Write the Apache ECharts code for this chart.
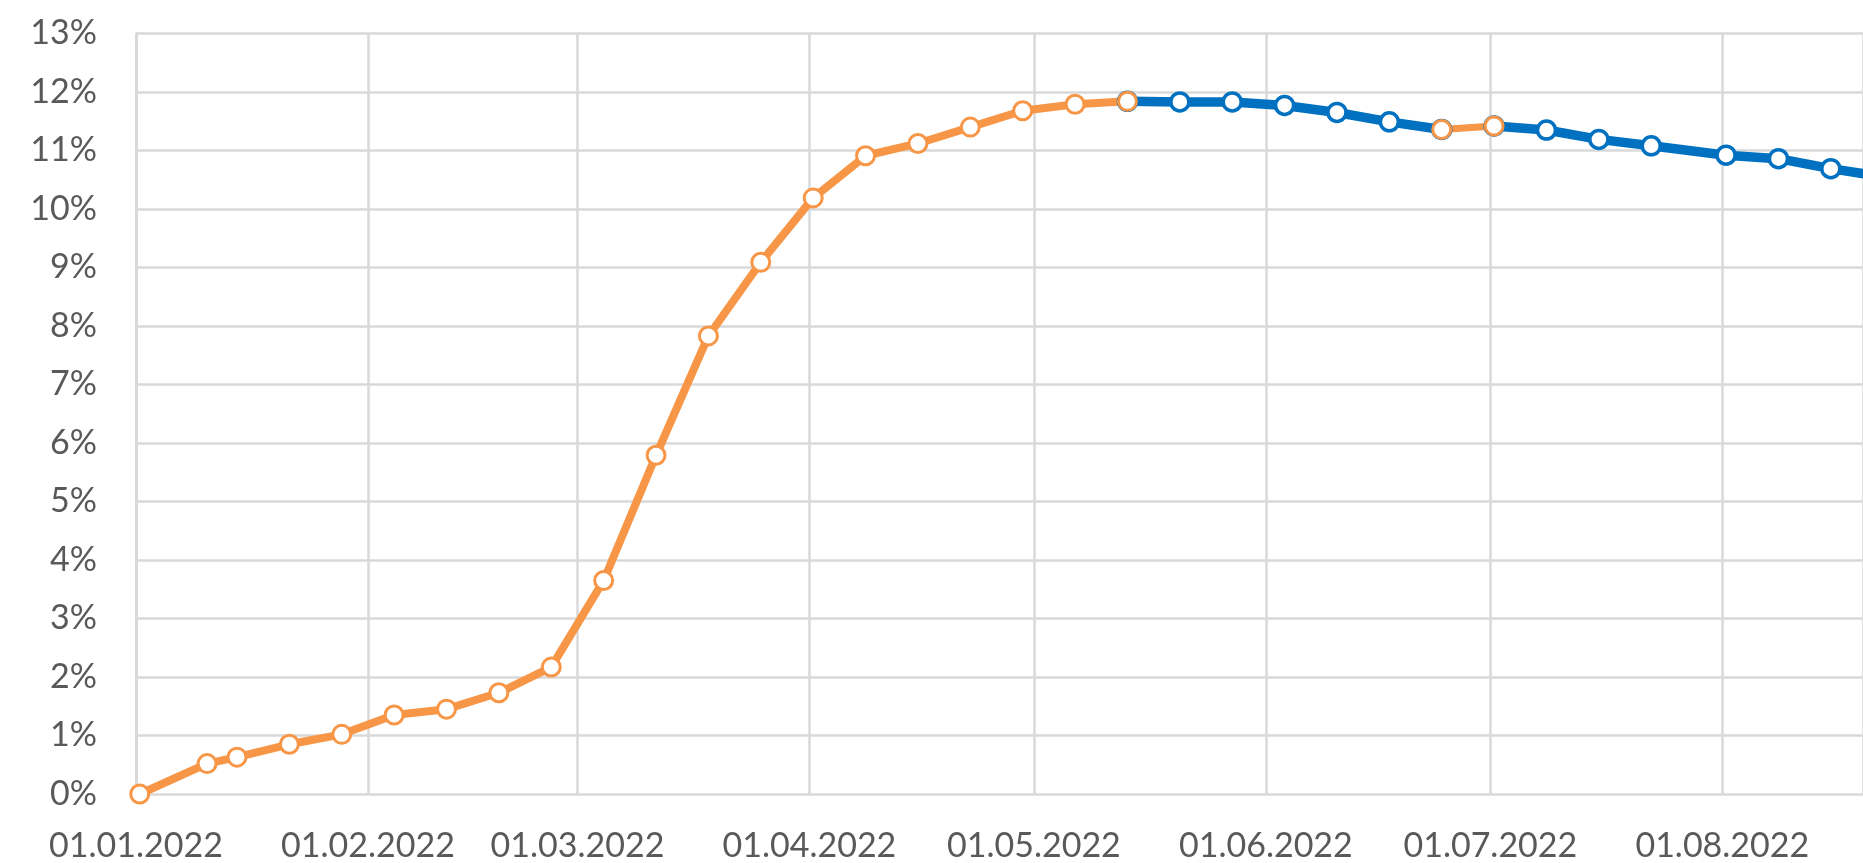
<!DOCTYPE html>
<html>
<head>
<meta charset="utf-8">
<script src="https://cdn.jsdelivr.net/npm/echarts@6/dist/echarts.min.js"></script>
<style>
html,body{margin:0;padding:0;background:#ffffff;}
#chart{width:1863px;height:863px;}
</style>
</head>
<body>
<div id="chart"></div>
<script>
// ---- data (percent) ----
const orangeDates = ['2022-01-01','2022-01-10','2022-01-14','2022-01-21','2022-01-28','2022-02-04','2022-02-11','2022-02-18','2022-02-25','2022-03-04','2022-03-11','2022-03-18','2022-03-25','2022-04-01','2022-04-08','2022-04-15','2022-04-22','2022-04-29','2022-05-06','2022-05-13'];
const orangeValues = [0.00,0.52,0.63,0.85,1.02,1.35,1.45,1.73,2.17,3.65,5.79,7.83,9.09,10.19,10.91,11.12,11.40,11.68,11.79,11.84];

const orangeSummerDates = ['2022-06-24','2022-07-01'];
const orangeSummerValues = [11.36,11.42];

const blueSpringDates = ['2022-05-13','2022-05-20','2022-05-27','2022-06-03','2022-06-10','2022-06-17','2022-06-24'];
const blueSpringValues = [11.84,11.83,11.83,11.77,11.65,11.49,11.36];

const blueSummerDates = ['2022-07-01','2022-07-08','2022-07-15','2022-07-22','2022-08-01','2022-08-08','2022-08-15','2022-08-22'];
const blueSummerValues = [11.42,11.35,11.19,11.08,10.92,10.86,10.69,10.55];

const yMin = 0, yMax = 13, yStep = 1;
const axisStart = '2022-01-01';
const visibleDays = 230.8;

// ---- build ----
const DAY = 86400000;
const toPoints = (ds, vs) => ds.map((d, i) => [new Date(d + 'T12:00:00').getTime(), vs[i]]);
const xMin = new Date(axisStart + 'T00:00:00').getTime();
const xMax = xMin + visibleDays * DAY;

const ORANGE = '#F79646', BLUE = '#0070C0', GRID = '#D9D9D9', TEXT = '#595959';
const FONT = 'Lato';

function lineSeries(name, data, color, width, symSize, border) {
  return {
    name, type: 'line', data,
    clip: true,
    lineStyle: { color, width },
    symbol: 'circle', symbolSize: symSize, showSymbol: true,
    itemStyle: { color: '#ffffff', borderColor: color, borderWidth: border },
    emphasis: { disabled: true },
    z: 3
  };
}

const chart = echarts.init(document.getElementById('chart'), null, { renderer: 'canvas' });
chart.setOption({
  animation: false,
  backgroundColor: '#ffffff',
  grid: { left: 136, right: 0, top: 33.5, bottom: 69, containLabel: false, outerBoundsMode: 'none' },
  xAxis: {
    type: 'time',
    min: xMin, max: xMax,
    minInterval: 28 * DAY, maxInterval: 31 * DAY,
    axisLine: { show: false },
    axisTick: { show: false },
    splitLine: { show: true, lineStyle: { color: GRID, width: 2.5 } },
    axisLabel: {
      formatter: '{dd}.{MM}.{yyyy}',
      color: TEXT, fontSize: 34, fontFamily: FONT, margin: 35,
      showMinLabel: true, hideOverlap: false
    }
  },
  yAxis: {
    type: 'value', min: yMin, max: yMax, interval: yStep,
    axisLine: { show: true, lineStyle: { color: GRID, width: 2.5 } },
    axisTick: { show: false },
    splitLine: { show: true, lineStyle: { color: GRID, width: 2.5 } },
    axisLabel: { formatter: '{value}%', color: TEXT, fontSize: 34, fontFamily: FONT, margin: 39 }
  },
  series: [
    lineSeries('blue1', toPoints(blueSpringDates, blueSpringValues), BLUE, 9.5, 18, 3.5),
    lineSeries('blue2', toPoints(blueSummerDates, blueSummerValues), BLUE, 9.5, 18, 3.5),
    lineSeries('orange1', toPoints(orangeDates, orangeValues), ORANGE, 8, 18, 3),
    lineSeries('orange2', toPoints(orangeSummerDates, orangeSummerValues), ORANGE, 7, 18, 3)
  ]
});
</script>
</body>
</html>
